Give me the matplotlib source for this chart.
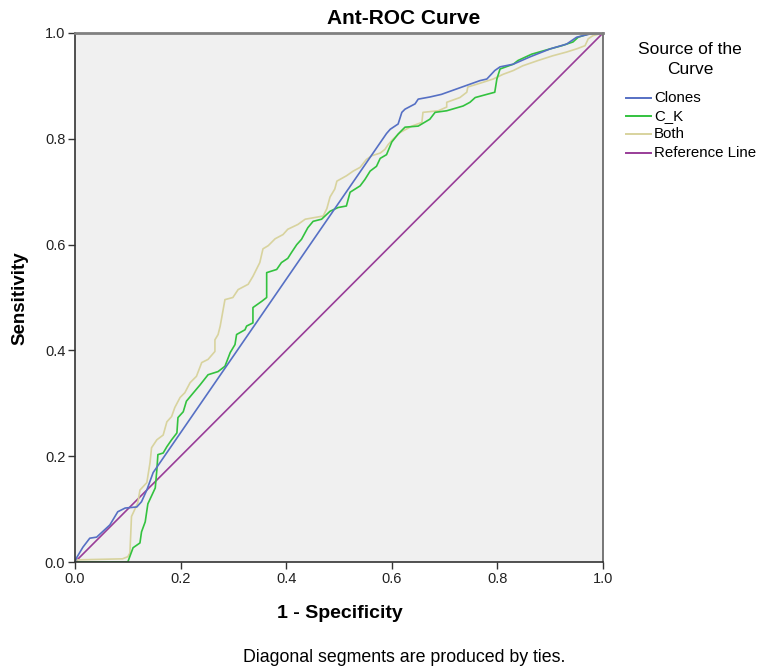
import matplotlib.pyplot as plt
from matplotlib.lines import Line2D

plt.rcParams['font.family'] = ['Liberation Sans', 'DejaVu Sans']

# ROC points (1 - specificity, sensitivity)
clones_pts = [(0, 0), (0.003, 0.008), (0.015, 0.028), (0.028, 0.045), (0.041, 0.047),
              (0.066, 0.070), (0.081, 0.095), (0.095, 0.102), (0.117, 0.104), (0.126, 0.114),
              (0.136, 0.136), (0.148, 0.169), (0.590, 0.810), (0.597, 0.818), (0.612, 0.828),
              (0.619, 0.850), (0.625, 0.856), (0.644, 0.866), (0.650, 0.875), (0.672, 0.879),
              (0.694, 0.884), (0.767, 0.910), (0.780, 0.913), (0.795, 0.929), (0.805, 0.936),
              (0.830, 0.941), (0.862, 0.955), (0.900, 0.970), (0.931, 0.979), (0.950, 0.992),
              (0.975, 0.998), (1.0, 1.0)]

ck_pts = [(0, 0), (0.100, 0.0), (0.110, 0.027), (0.123, 0.036), (0.126, 0.057), (0.133, 0.076),
          (0.138, 0.110), (0.152, 0.140), (0.155, 0.174), (0.157, 0.203), (0.167, 0.206),
          (0.174, 0.218), (0.183, 0.231), (0.193, 0.244), (0.195, 0.273), (0.205, 0.284),
          (0.211, 0.304), (0.221, 0.316), (0.237, 0.335), (0.252, 0.354), (0.271, 0.360),
          (0.284, 0.370), (0.294, 0.396), (0.303, 0.411), (0.306, 0.430), (0.322, 0.439),
          (0.325, 0.446), (0.337, 0.452), (0.337, 0.481), (0.354, 0.493), (0.363, 0.500),
          (0.363, 0.547), (0.382, 0.553), (0.391, 0.566), (0.403, 0.574), (0.410, 0.585),
          (0.420, 0.600), (0.429, 0.610), (0.441, 0.632), (0.451, 0.644), (0.467, 0.648),
          (0.483, 0.663), (0.498, 0.670), (0.514, 0.673), (0.521, 0.699), (0.540, 0.711),
          (0.549, 0.723), (0.559, 0.739), (0.571, 0.748), (0.578, 0.763), (0.590, 0.770),
          (0.600, 0.794), (0.612, 0.809), (0.625, 0.822), (0.650, 0.824), (0.672, 0.837),
          (0.682, 0.850), (0.704, 0.853), (0.735, 0.862), (0.748, 0.869), (0.758, 0.878),
          (0.780, 0.884), (0.795, 0.888), (0.799, 0.913), (0.805, 0.932), (0.830, 0.941),
          (0.839, 0.948), (0.865, 0.960), (0.900, 0.970), (0.922, 0.976), (0.943, 0.983),
          (0.953, 0.992), (0.972, 0.998), (0.981, 1.0), (1.0, 1.0)]

both_pts = [(0, 0), (0.003, 0.004), (0.090, 0.006), (0.100, 0.010), (0.104, 0.017),
            (0.107, 0.086), (0.119, 0.112), (0.123, 0.136), (0.136, 0.150), (0.142, 0.187),
            (0.145, 0.216), (0.155, 0.231), (0.167, 0.240), (0.174, 0.265), (0.183, 0.275),
            (0.189, 0.292), (0.199, 0.311), (0.208, 0.320), (0.218, 0.339), (0.230, 0.351),
            (0.240, 0.377), (0.252, 0.383), (0.265, 0.398), (0.265, 0.420), (0.271, 0.430),
            (0.275, 0.446), (0.284, 0.496), (0.299, 0.500), (0.309, 0.515), (0.328, 0.525),
            (0.337, 0.540), (0.350, 0.566), (0.356, 0.592), (0.366, 0.598), (0.379, 0.611),
            (0.394, 0.619), (0.403, 0.629), (0.422, 0.638), (0.436, 0.648), (0.470, 0.654),
            (0.477, 0.668), (0.483, 0.690), (0.492, 0.705), (0.496, 0.720), (0.514, 0.730),
            (0.527, 0.739), (0.540, 0.746), (0.552, 0.761), (0.562, 0.768), (0.578, 0.773),
            (0.587, 0.780), (0.593, 0.789), (0.602, 0.799), (0.616, 0.812), (0.638, 0.824),
            (0.657, 0.831), (0.659, 0.850), (0.688, 0.853), (0.704, 0.860), (0.704, 0.869),
            (0.729, 0.878), (0.742, 0.888), (0.744, 0.898), (0.767, 0.905), (0.792, 0.913),
            (0.811, 0.922), (0.830, 0.929), (0.848, 0.938), (0.877, 0.948), (0.905, 0.957),
            (0.931, 0.964), (0.950, 0.970), (0.966, 0.976), (0.972, 0.989), (0.981, 0.995),
            (1.0, 1.0)]

ref_x = [0, 1]
ref_y = [0, 1]

series_names = ["Clones", "C_K", "Both", "Reference Line"]
colors = ["#5670C4", "#33C23F", "#D8D39E", "#993D98"]
ticks = [0.0, 0.2, 0.4, 0.6, 0.8, 1.0]

fig = plt.figure(figsize=(7.62, 6.72), dpi=100)
ax = fig.add_axes([75 / 762, 1 - 562 / 672, 528 / 762, 529 / 672])
ax.set_facecolor("#F0F0F0")

# draw order: reference line under the curves
ax.plot(ref_x, ref_y, color=colors[3], lw=1.2)
for pts, c in zip([both_pts, ck_pts, clones_pts], [colors[2], colors[1], colors[0]]):
    xs = [p[0] for p in pts]
    ys = [p[1] for p in pts]
    ax.plot(xs, ys, color=c, lw=1.2)

ax.set_xlim(0, 1)
ax.set_ylim(0, 1)
ax.set_xticks(ticks)
ax.set_yticks(ticks)
ax.set_xticklabels(["%.1f" % t for t in ticks])
ax.set_yticklabels(["%.1f" % t for t in ticks])
ax.tick_params(direction="out", length=5, width=1, color="#333333",
               labelsize=10.5, labelcolor="#222222", pad=2)

for s in ["left", "bottom"]:
    ax.spines[s].set_color("#333333")
    ax.spines[s].set_linewidth(1.2)
ax.spines["top"].set_color("#808080")
ax.spines["top"].set_linewidth(2)
ax.spines["right"].set_color("#606060")
ax.spines["right"].set_linewidth(1.2)

fig.text(340 / 762, 1 - 613 / 672, "1 - Specificity", ha="center", va="center",
         fontsize=14, fontweight="bold")
fig.text(20 / 762, 1 - 298 / 672, "Sensitivity", ha="center", va="center",
         rotation=90, fontsize=13.5, fontweight="bold")

fig.text(404 / 762, 1 - 18 / 672, "Ant-ROC Curve", ha="center", va="center",
         fontsize=15, fontweight="bold")
fig.text(404 / 762, 1 - 657 / 672, "Diagonal segments are produced by ties.",
         ha="center", va="center", fontsize=12.8)

# legend drawn by hand so the rows land where the reference has them
fig.text(690 / 762, 1 - 50 / 672, "Source of the", ha="center", va="center", fontsize=12.5)
fig.text(690 / 762, 1 - 69 / 672, "Curve", ha="center", va="center", fontsize=12.5)
row_y = [98, 116, 134, 153]
for name, c, yy in zip(series_names, colors, row_y):
    fy = 1 - yy / 672
    fig.add_artist(Line2D([626 / 762, 651 / 762], [fy, fy], color=c, lw=1.4,
                          transform=fig.transFigure))
    fig.text(654 / 762, fy, name, ha="left", va="center", fontsize=10.8)

fig.savefig("out.png", dpi=100)
